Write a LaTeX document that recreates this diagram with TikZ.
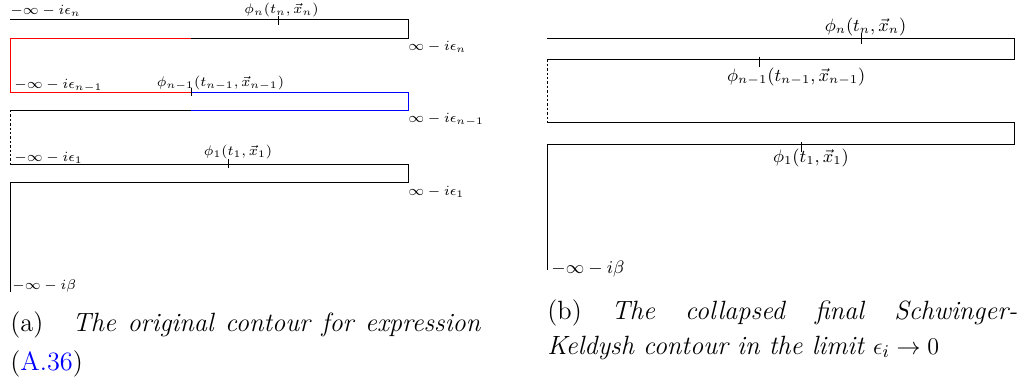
\documentclass[tikz,border=0pt]{standalone}
\usepackage{amsmath}
\begin{document}
\begin{tikzpicture}[x=0.5pt,y=-0.5pt,
  contour/.style={line width=0.5pt},
  tickmark/.style={line width=0.5pt},
  dotline/.style={line width=0.5pt, dash pattern=on 1.2pt off 1pt},
  lbla/.style={inner sep=0pt, font=\fontsize{7}{8.5}\selectfont},
  lblb/.style={inner sep=0pt, font=\fontsize{8.7}{10.5}\selectfont},
  capt/.style={inner sep=0pt, font=\fontsize{13.2}{16}\selectfont}]
\useasboundingbox (0,0) rectangle (1020,381);

% ---------- (a) ----------
\coordinate (a1) at (10,19.5);
\coordinate (a2) at (408,19.5);
\coordinate (a3) at (408,38);
\coordinate (a4) at (191,38);
\coordinate (a5) at (10,38);
\coordinate (a6) at (10,92);
\coordinate (a7) at (191,92);
\coordinate (a8) at (408,92);
\coordinate (a9) at (408,110);
\coordinate (a10) at (191,110);
\coordinate (a11) at (10,110);
\coordinate (a12) at (10,164);
\coordinate (a13) at (408,164);
\coordinate (a14) at (408,182.5);
\coordinate (a15) at (10,182.5);
\coordinate (a16) at (10,292);

\draw[contour] (a1) -- (a2) -- (a3) -- (a4);
\draw[contour,red] (a4) -- (a5) -- (a6) -- (a7);
\draw[contour,blue] (a7) -- (a8) -- (a9) -- (a10);
\draw[contour] (a10) -- (a11);
\draw[dotline] (a11) -- (a12);
\draw[contour] (a12) -- (a13) -- (a14) -- (a15) -- (a16);

\coordinate (ta1s) at (278,16); \coordinate (ta1e) at (278,25);
\coordinate (ta2s) at (191,88); \coordinate (ta2e) at (191,96);
\coordinate (ta3s) at (228,159); \coordinate (ta3e) at (228,168);
\draw[tickmark] (ta1s) -- (ta1e);
\draw[tickmark] (ta2s) -- (ta2e);
\draw[tickmark] (ta3s) -- (ta3e);

\node[lbla,anchor=base west] (la1) at (10,14) {$-\infty - i\epsilon_n$};
\node[lbla,anchor=base] (pa1) at (281.5,13) {$\phi_n(t_n,\vec{x}_n)$};
\node[lbla,anchor=base west] (ra1) at (408,50) {$\infty - i\epsilon_n$};
\node[lbla,anchor=base west] (la2) at (14,88) {$-\infty - i\epsilon_{n-1}$};
\node[lbla,anchor=base] (pa2) at (220.5,86) {$\phi_{n-1}(t_{n-1},\vec{x}_{n-1})$};
\node[lbla,anchor=base west] (ra2) at (408,122) {$\infty - i\epsilon_{n-1}$};
\node[lbla,anchor=base west] (la3) at (14,161) {$-\infty - i\epsilon_1$};
\node[lbla,anchor=base] (pa3) at (238,155) {$\phi_1(t_1,\vec{x}_1)$};
\node[lbla,anchor=base west] (ra3) at (408,195) {$\infty - i\epsilon_1$};
\node[lbla,anchor=base west] (la4) at (12,289.5) {$-\infty - i\beta$};

% ---------- (b) ----------
\coordinate (b1) at (547,38.3);
\coordinate (b2) at (1014,38.3);
\coordinate (b3) at (1014,59.3);
\coordinate (b4) at (547,59.3);
\coordinate (b5) at (547,122.7);
\coordinate (b6) at (1014,122.7);
\coordinate (b7) at (1014,144);
\coordinate (b8) at (547,144);
\coordinate (b9) at (547,270);

\draw[contour] (b1) -- (b2) -- (b3) -- (b4);
\draw[dotline] (b4) -- (b5);
\draw[contour] (b5) -- (b6) -- (b7) -- (b8) -- (b9);

\coordinate (tb1s) at (861,33.3); \coordinate (tb1e) at (861,44.3);
\coordinate (tb2s) at (759.3,56.7); \coordinate (tb2e) at (759.3,66.7);
\coordinate (tb3s) at (801.7,141.7); \coordinate (tb3e) at (801.7,151.7);
\draw[tickmark] (tb1s) -- (tb1e);
\draw[tickmark] (tb2s) -- (tb2e);
\draw[tickmark] (tb3s) -- (tb3e);

\node[lblb,anchor=base] (pb1) at (865.5,31.7) {$\phi_n(t_n,\vec{x}_n)$};
\node[lblb,anchor=base] (pb2) at (796.3,81) {$\phi_{n-1}(t_{n-1},\vec{x}_{n-1})$};
\node[lblb,anchor=base] (pb3) at (811,162) {$\phi_1(t_1,\vec{x}_1)$};
\node[lblb,anchor=base west] (lb4) at (551,273) {$-\infty - i\beta$};

% ---------- captions ----------
\node[capt,anchor=base west] (capa1) at (10,331) {(a)};
\node[capt,anchor=base west] (capa2) at (72,331) {\makebox[204pt][s]{\itshape The original contour for expression}};
\node[capt,anchor=base west] (capa3) at (10,370) {(\textcolor{blue}{A.36})};

\node[capt,anchor=base west] (capb1) at (547,319) {(b)};
\node[capt,anchor=base west] (capb2) at (611,319) {\makebox[203pt][s]{\itshape The collapsed final Schwinger-}};
\node[capt,anchor=base west] (capb3) at (547,354) {\itshape Keldysh contour in the limit $\epsilon_i \to 0$};
\end{tikzpicture}
\end{document}
